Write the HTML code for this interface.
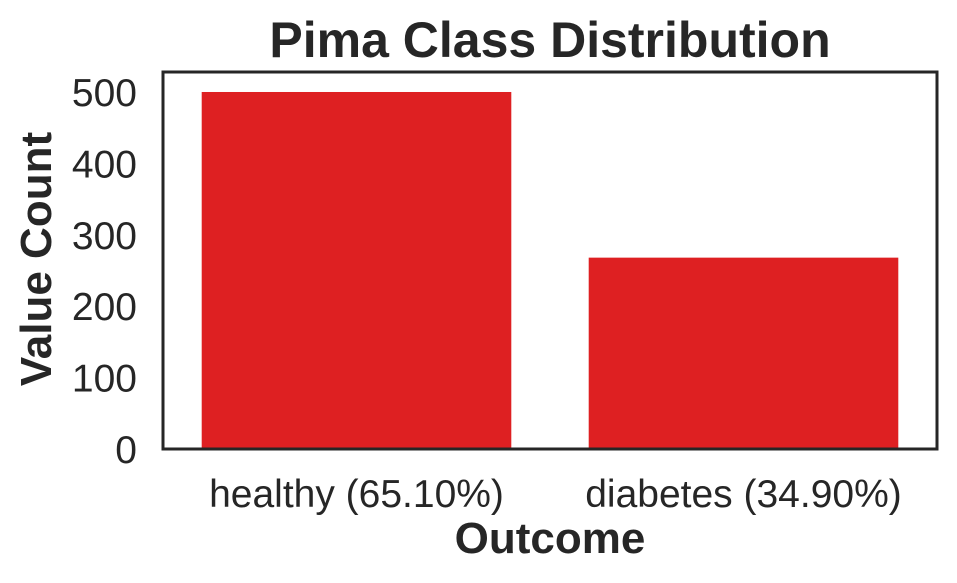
<!DOCTYPE html>
<html><head><meta charset="utf-8"><style>
body{margin:0;background:#fff;}
svg{display:block;font-family:"Liberation Sans",Arial,sans-serif;}
</style></head><body>
<svg id="chart" width="957" height="583">
<text x="550" y="57" text-anchor="middle" font-size="50" font-weight="bold" fill="#262626">Pima Class Distribution</text>
<g id="bars"></g>
<g id="yticks"></g>
<g id="xticks"></g>
<rect x="163" y="72" width="774" height="377" fill="none" stroke="#262626" stroke-width="3"/>
<text x="550" y="553" text-anchor="middle" font-size="44" font-weight="bold" fill="#262626">Outcome</text>
<text transform="translate(51,259) rotate(-90)" text-anchor="middle" font-size="44" font-weight="bold" fill="#262626">Value Count</text>
</svg>
<script>
const categories=["healthy (65.10%)","diabetes (34.90%)"];
const counts=[500,268];
const yTicks=[0,100,200,300,400,500];
const L=163,R=937,T=72,B=449,yMax=528;
const ns="http://www.w3.org/2000/svg";
const y=v=>B-(v/yMax)*(B-T);
const band=(R-L)/categories.length;
const x=i=>L+band*i;
const bars=document.getElementById('bars');
counts.forEach((v,i)=>{
 const r=document.createElementNS(ns,'rect');
 r.setAttribute('x',x(i)+band*0.1);r.setAttribute('width',band*0.8);
 r.setAttribute('y',y(v));r.setAttribute('height',B-y(v));r.setAttribute('fill','#de2022');
 
 
 bars.appendChild(r);
 const t=document.createElementNS(ns,'text');
 t.setAttribute('x',x(i)+band/2);t.setAttribute('y',507);t.setAttribute('text-anchor','middle');
 t.setAttribute('font-size','39');t.setAttribute('fill','#262626');t.textContent=categories[i];
 
 
 document.getElementById('xticks').appendChild(t);
});
yTicks.forEach(v=>{
 const t=document.createElementNS(ns,'text');
 t.setAttribute('x',137);t.setAttribute('y',y(v)+14);t.setAttribute('text-anchor','end');
 t.setAttribute('font-size','39');t.setAttribute('fill','#262626');t.textContent=v;
 
 
 document.getElementById('yticks').appendChild(t);
});
</script>
</body></html>
